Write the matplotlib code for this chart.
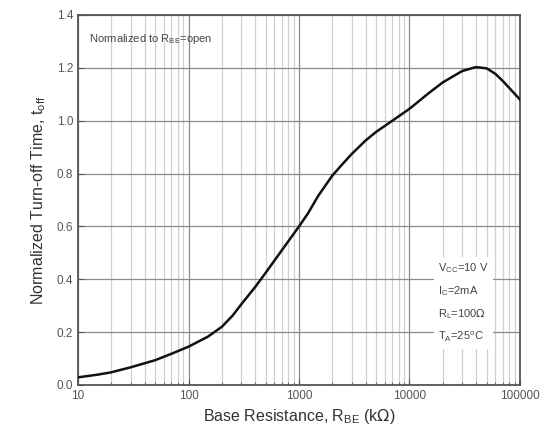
import matplotlib
matplotlib.use("Agg")
import matplotlib.pyplot as plt
from matplotlib.ticker import FixedLocator, NullFormatter, FixedFormatter

plt.rcParams['font.family'] = ['Liberation Sans', 'DejaVu Sans']

# Curve (base resistance in kOhm, normalized t_off)
r_be = [10, 15, 20, 30, 50, 70, 100, 150, 200, 250, 300, 400, 500, 700, 1000,
        1200, 1500, 2000, 2500, 3000, 4000, 5000, 7000, 10000, 15000, 20000,
        30000, 40000, 50000, 60000, 70000, 80000, 100000]
t_off = [0.029, 0.039, 0.048, 0.067, 0.094, 0.118, 0.145, 0.183, 0.22, 0.262,
         0.305, 0.37, 0.425, 0.51, 0.60, 0.648, 0.717, 0.792, 0.838, 0.874,
         0.925, 0.958, 1.0, 1.045, 1.105, 1.145, 1.188, 1.203, 1.198, 1.177,
         1.15, 1.124, 1.08]

x_ticks = [10, 100, 1000, 10000, 100000]
x_labels = ['10', '100', '1000', '10000', '100000']
y_ticks = [0.0, 0.2, 0.4, 0.6, 0.8, 1.0, 1.2, 1.4]
y_labels = ['0.0', '0.2', '0.4', '0.6', '0.8', '1.0', '1.2', '1.4']

cond_lines = [r'V$_{\mathregular{CC}}$=10 V', r'I$_{\mathregular{C}}$=2mA',
              r'R$_{\mathregular{L}}$=100$\Omega$', r'T$_{\mathregular{A}}$=25$^{\mathregular{o}}$C']

fig = plt.figure(figsize=(5.51, 4.37), dpi=100)
ax = fig.add_axes([0.1416, 0.119, 0.8021, 0.8467])

ax.set_xscale('log')
ax.set_xlim(10, 100000)
ax.set_ylim(0, 1.4)

# grid: darker majors, lighter minors
ax.xaxis.set_major_locator(FixedLocator(x_ticks))
ax.xaxis.set_major_formatter(FixedFormatter(x_labels))
minors = [m * d for d in [10, 100, 1000, 10000] for m in range(2, 10)]
ax.xaxis.set_minor_locator(FixedLocator(minors))
ax.xaxis.set_minor_formatter(NullFormatter())
ax.yaxis.set_major_locator(FixedLocator(y_ticks))
ax.yaxis.set_major_formatter(FixedFormatter(y_labels))
ax.grid(True, which='major', color='#8a8a8a', linewidth=0.9)
ax.grid(True, which='minor', axis='x', color='#d0d0d0', linewidth=0.9)
ax.set_axisbelow(True)

ax.plot(r_be, t_off, color='#111111', linewidth=1.8, zorder=3,
        solid_joinstyle='round')

for s in ax.spines.values():
    s.set_color('#555555')
    s.set_linewidth(1.3)

ax.tick_params(which='both', direction='in', colors='#555555', labelsize=8.5,
               labelcolor='#555555')
ax.tick_params(which='major', length=4)
ax.tick_params(which='minor', length=2)

ax.set_xlabel(r'Base Resistance, R$_{\mathregular{BE}}$ (k$\Omega$)',
              fontsize=11.5, color='#333333', labelpad=4)
ax.set_ylabel(r'Normalized Turn-off Time, t$_{\mathregular{off}}$',
              fontsize=11.5, color='#333333', labelpad=6)

ax.text(0.025, 0.955, r'Normalized to R$_{\mathregular{BE}}$=open',
        transform=ax.transAxes, fontsize=8, color='#444444', va='top')

# condition box in lower right, covering the grid
ax.text(0.815, 0.11, '\n'.join(cond_lines), transform=ax.transAxes,
        fontsize=8, color='#444444', va='bottom', ha='left', linespacing=1.9,
        bbox=dict(facecolor='white', edgecolor='none', pad=3), zorder=4)

fig.savefig('out.png', dpi=100)
